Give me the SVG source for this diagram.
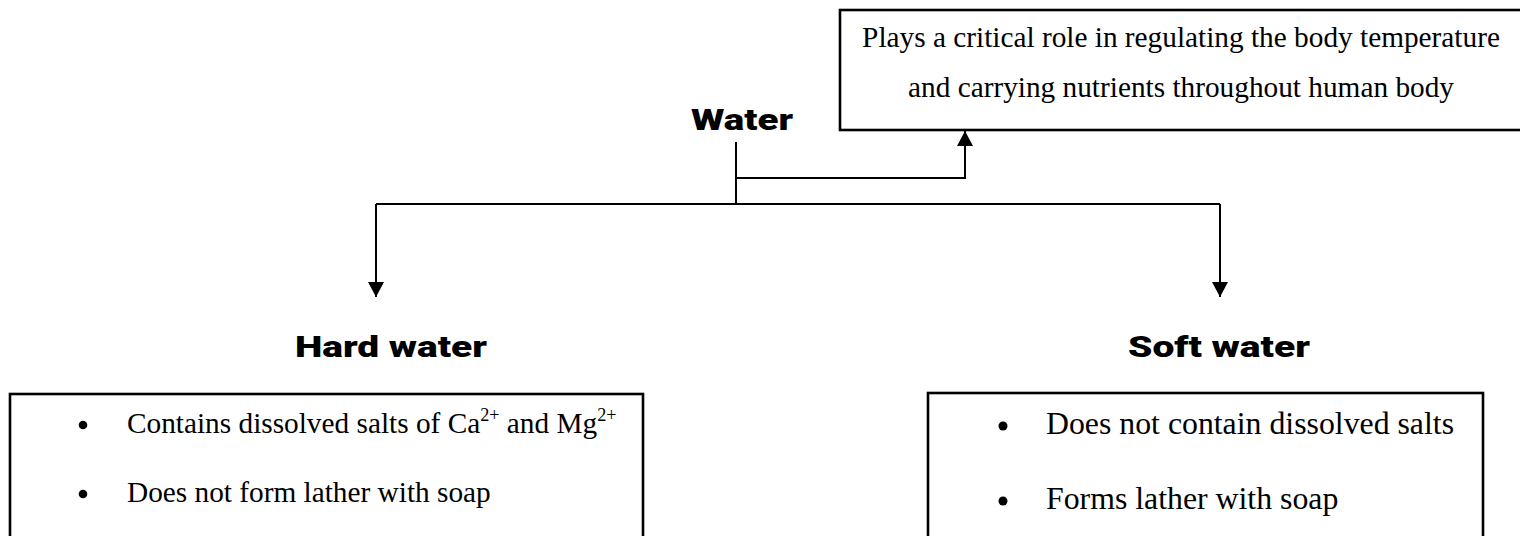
<svg xmlns="http://www.w3.org/2000/svg" width="1520" height="536" viewBox="0 0 1520 536">
  <style>
    .box { fill: #ffffff; stroke: #000000; stroke-width: 2.6; }
    .link { fill: none; stroke: #000000; stroke-width: 2; }
    .head { font-family: "Arial Black", Roboto, "Liberation Sans", sans-serif; font-weight: 900; font-size: 30px; fill: #000000; text-anchor: middle; }
    .body { font-family: "Liberation Serif", "Times New Roman", serif; fill: #000000; }
    .sup { font-size: 0.62em; }
    .dot { fill: #000000; }
  </style>
  <defs>
    <marker id="arrow" markerUnits="userSpaceOnUse" markerWidth="15" markerHeight="16" refX="15" refY="8" orient="auto" viewBox="0 0 15 16">
      <path d="M0,0 L15,8 L0,16 Z" fill="#000000"/>
    </marker>
  </defs>
  <rect width="1520" height="536" fill="#ffffff"/>

  <!-- connectors -->
  <g id="connectors">
    <path class="link" d="M736,142 V204"/>
    <path class="link" d="M736,178 H965 V131" marker-end="url(#arrow)"/>
    <path class="link" d="M376,204 H1220"/>
    <path class="link" d="M376,204 V297" marker-end="url(#arrow)"/>
    <path class="link" d="M1220,204 V297" marker-end="url(#arrow)"/>
  </g>

  <!-- root -->
  <g id="water">
    <text class="head" x="742" y="130" textLength="102" lengthAdjust="spacingAndGlyphs">Water</text>
  </g>

  <!-- role note -->
  <g id="role">
    <rect class="box" x="840" y="10" width="690" height="120"/>
    <text class="body" font-size="29.3" x="1181" y="47" text-anchor="middle">Plays a critical role in regulating the body temperature</text>
    <text class="body" font-size="29.3" x="1181" y="97" text-anchor="middle">and carrying nutrients throughout human body</text>
  </g>

  <!-- hard water -->
  <g id="hard-water">
    <text class="head" x="391" y="357" textLength="192" lengthAdjust="spacingAndGlyphs">Hard water</text>
    <rect class="box" x="10" y="394" width="633" height="160"/>
    <circle class="dot" cx="83" cy="425" r="4.3"/>
    <text class="body" font-size="29.3" x="127" y="433">Contains dissolved salts of Ca<tspan class="sup" dy="-12">2+</tspan><tspan dy="12"> and Mg</tspan><tspan class="sup" dy="-12">2+</tspan></text>
    <circle class="dot" cx="83" cy="494" r="4.3"/>
    <text class="body" font-size="29.3" x="127" y="502">Does not form lather with soap</text>
  </g>

  <!-- soft water -->
  <g id="soft-water">
    <text class="head" x="1219" y="357" textLength="182" lengthAdjust="spacingAndGlyphs">Soft water</text>
    <rect class="box" x="928" y="393" width="555" height="160"/>
    <circle class="dot" cx="1003" cy="426" r="4.5"/>
    <text class="body" font-size="31.8" x="1046" y="434">Does not contain dissolved salts</text>
    <circle class="dot" cx="1003" cy="501" r="4.5"/>
    <text class="body" font-size="31.8" x="1046" y="509">Forms lather with soap</text>
  </g>
</svg>
